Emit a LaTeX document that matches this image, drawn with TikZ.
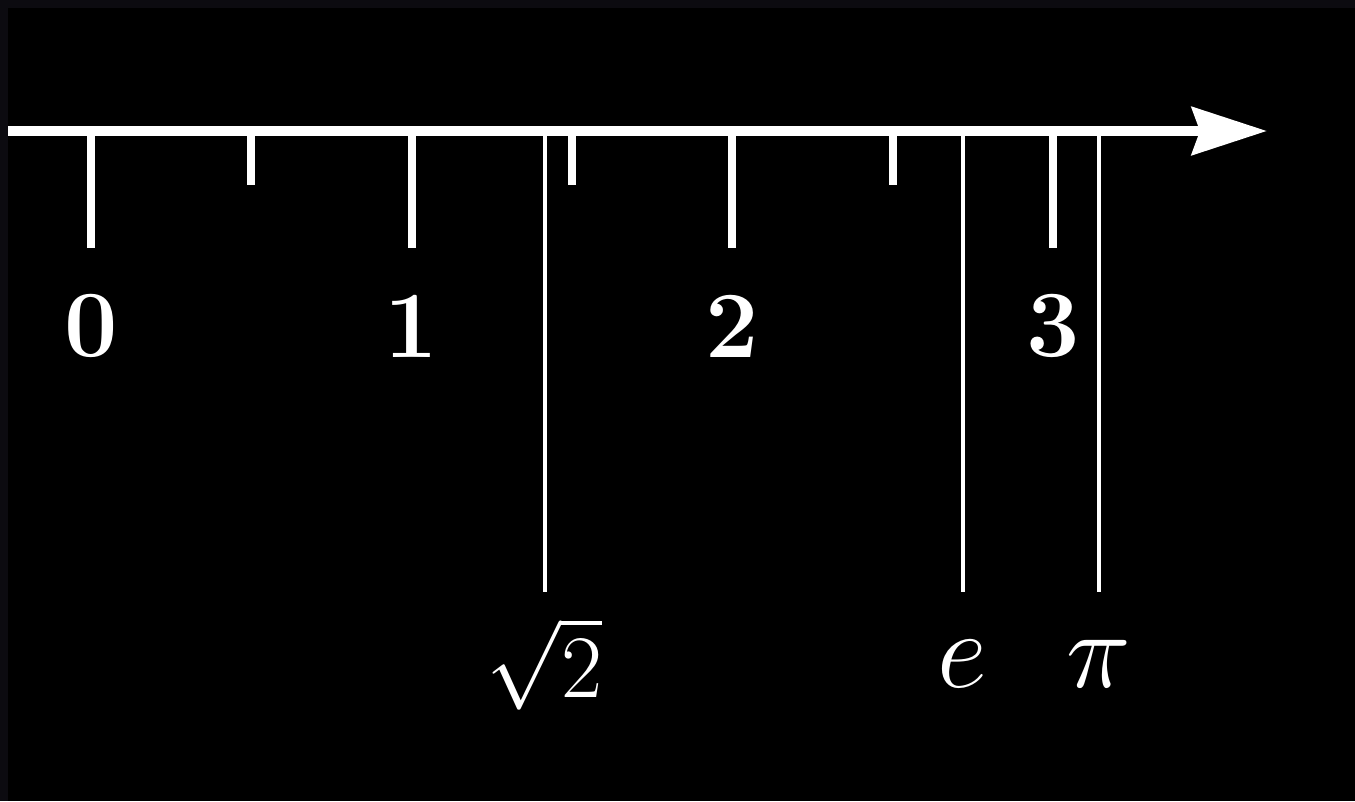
\documentclass[tikz,border=0pt]{standalone}
\usepackage{tikz}
\usepackage{xcolor}
\usetikzlibrary{arrows.meta}
\definecolor{framec}{HTML}{0C0B10}
\definecolor{inkc}{HTML}{FFFFFF}

\begin{document}
\begin{tikzpicture}[x=0.02cm,y=-0.02cm,
    numlab/.style={inkc, font=\fontsize{54}{60}\selectfont, inner sep=0pt},
    constlab/.style={inkc, font=\fontsize{20}{24}\selectfont, inner sep=0pt},
    majortick/.style={inkc, line width=0.16cm},
    longtick/.style={inkc, line width=0.08cm}]
  \useasboundingbox (0,0) rectangle (1355,801);
  \fill[framec] (0,0) rectangle (1355,801);
  \fill[black] (8,8) rectangle (1355,801);

  % ============================================================
  %                       PARAMETERS
  % ============================================================
  \def\xZero{91}       % px of the zero mark
  \def\unitLen{320.7}  % px per unit
  \def\axisY{131}
  \def\majorEnd{248}
  \def\minorEnd{185}
  \def\longEnd{592}
  \def\digitY{326}
  \def\constY{664}

  % ============================================================
  %                       AXIS
  % ============================================================
  \coordinate (axisL) at (8,\axisY);
  \coordinate (axisR) at (1267,\axisY);
  \draw[inkc, line width=0.2cm,
        -{Stealth[length=1.5cm, width=0.95cm, inset=0.16cm]}] (axisL) -- (axisR);

  % ============================================================
  %                       TICKS AND DIGITS
  % ============================================================
  \foreach \k in {0,...,3} {
    \pgfmathsetmacro{\xx}{\xZero + \k*\unitLen}
    \draw[majortick] (\xx,\axisY) -- (\xx,\majorEnd);
    \node[numlab] (lab\k) at (\xx,\digitY) {\bfseries \k};
  }
  \foreach \k in {0,...,2} {
    \pgfmathsetmacro{\xx}{\xZero + (\k+0.5)*\unitLen}
    \draw[majortick] (\xx,\axisY) -- (\xx,\minorEnd);
  }

  % ============================================================
  %                       CONSTANTS
  % ============================================================
  \foreach \val/\name/\sc/\txt in {1.41421/sq2/2.45/{$\sqrt{2}$},
                                   2.71828/e/3/{$e$},
                                   3.14159/pi/3/{$\pi$}} {
    \pgfmathsetmacro{\xx}{\xZero + \val*\unitLen}
    \coordinate (\name top) at (\xx,\axisY);
    \coordinate (\name bot) at (\xx,\longEnd);
    \draw[longtick] (\name top) -- (\name bot);
    \node[constlab, scale=\sc] (\name lab) at (\xx,\constY) {\txt};
  }

\end{tikzpicture}
\end{document}
